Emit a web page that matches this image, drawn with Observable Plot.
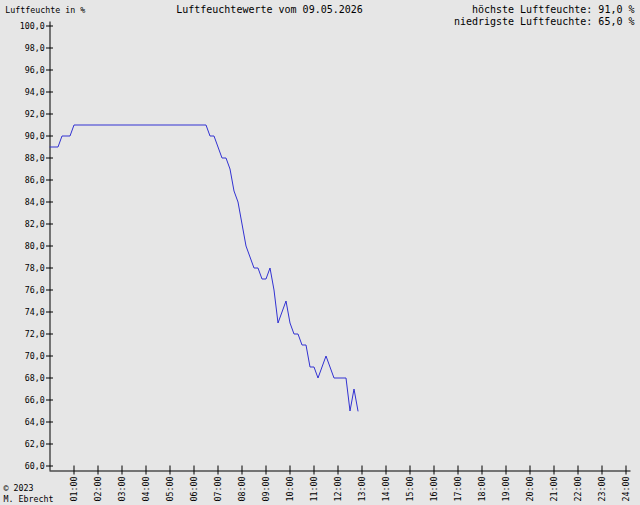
<!DOCTYPE html>
<html>
<head>
<meta charset="utf-8">
<script src="https://cdn.jsdelivr.net/npm/d3@7"></script>
<script src="https://cdn.jsdelivr.net/npm/@observablehq/plot@0.6"></script>
<style>
  html, body { margin: 0; padding: 0; background: #e6e6e6; }
  #chart svg { display: block; }
</style>
</head>
<body>
<div id="chart"></div>
<script>
// ---- data ----
const times = [
  "00:00","00:10","00:20","00:30","00:40","00:50",
  "01:00","01:10","01:20","01:30","01:40","01:50",
  "02:00","02:10","02:20","02:30","02:40","02:50",
  "03:00","03:10","03:20","03:30","03:40","03:50",
  "04:00","04:10","04:20","04:30","04:40","04:50",
  "05:00","05:10","05:20","05:30","05:40","05:50",
  "06:00","06:10","06:20","06:30","06:40","06:50",
  "07:00","07:10","07:20","07:30","07:40","07:50",
  "08:00","08:10","08:20","08:30","08:40","08:50",
  "09:00","09:10","09:20","09:30","09:40","09:50",
  "10:00","10:10","10:20","10:30","10:40","10:50",
  "11:00","11:10","11:20","11:30","11:40","11:50",
  "12:00","12:10","12:20","12:30","12:40","12:50"
];
const humidity = [
  89, 89, 89, 90, 90, 90,
  91, 91, 91, 91, 91, 91,
  91, 91, 91, 91, 91, 91,
  91, 91, 91, 91, 91, 91,
  91, 91, 91, 91, 91, 91,
  91, 91, 91, 91, 91, 91,
  91, 91, 91, 91, 90, 90,
  89, 88, 88, 87, 85, 84,
  82, 80, 79, 78, 78, 77,
  77, 78, 76, 73, 74, 75,
  73, 72, 72, 71, 71, 69,
  69, 68, 69, 70, 69, 68,
  68, 68, 68, 65, 67, 65
];
const xTicks = [1, 2, 3, 4, 5, 6, 7, 8, 9, 10, 11, 12, 13, 14, 15, 16, 17, 18, 19, 20, 21, 22, 23, 24];
const yTicks = [60, 62, 64, 66, 68, 70, 72, 74, 76, 78, 80, 82, 84, 86, 88, 90, 92, 94, 96, 98, 100];
const xDomain = [0, 24];
const yDomain = [60, 100];

const titleText = "Luftfeuchtewerte vom 09.05.2026";
const unitText = "Luftfeuchte in %";
const statsText = ["höchste Luftfeuchte: 91,0 %", "niedrigste Luftfeuchte: 65,0 %"];
const creditText = ["© 2023", "M. Ebrecht"];

// ---- build table ----
const data = times.map((t, i) => {
  const [hh, mm] = t.split(":").map(Number);
  return {h: hh + mm / 60, v: humidity[i]};
});

const fmtY = d => d.toFixed(1).replace(".", ",");
const fmtX = d => String(d).padStart(2, "0") + ":00";

const mono = "'DejaVu Sans Mono', 'Liberation Mono', monospace";

const chart = Plot.plot({
  width: 640,
  height: 505,
  marginLeft: 49.5,
  marginRight: 14.5,
  marginTop: 25.5,
  marginBottom: 39.5,
  style: {background: "#e6e6e6", fontFamily: mono, fontSize: "8.3px", color: "black", overflow: "visible"},
  x: {domain: xDomain, label: null},
  y: {domain: yDomain, label: null},
  marks: [
    // axis lines
    Plot.ruleX([xDomain[0]], {stroke: "black", insetTop: -4, insetBottom: -5}),
    Plot.ruleY([yDomain[0]], {stroke: "black", dy: 5, insetRight: -5}),
    // y ticks crossing the axis
    Plot.axisY({ticks: yTicks, tickSize: 7, dx: 3.5, tickFormat: () => "", strokeOpacity: 1}),
    // y labels
    Plot.axisY({ticks: yTicks, tickSize: 0, tickPadding: 5.3, tickFormat: fmtY}),
    // x ticks + rotated labels
    Plot.axisX({ticks: xTicks, tickSize: 9, tickPadding: 1.5, tickRotate: -90, tickFormat: fmtX, strokeOpacity: 1}),
    // data line
    Plot.line(data, {x: "h", y: "v", stroke: "#3232d2", strokeWidth: 1}),
    // texts
    Plot.text([unitText], {text: d => d, frameAnchor: "top-left", dx: -44.8, dy: -13.5, textAnchor: "start", lineAnchor: "bottom", fontSize: 8.3}),
    Plot.text([titleText], {text: d => d, frameAnchor: "top", dx: -68.5, dy: -13.5, textAnchor: "middle", lineAnchor: "bottom", fontSize: 10}),
    Plot.text([statsText.join("\n")], {text: d => d, frameAnchor: "top-right", dx: 8.5, dy: -1.5, textAnchor: "end", lineAnchor: "bottom", fontSize: 10, lineHeight: 1.2}),
    Plot.text([creditText.join("\n")], {text: d => d, frameAnchor: "bottom-left", dx: -46.5, dy: 35.8, textAnchor: "start", lineAnchor: "bottom", fontSize: 8.3, lineHeight: 1.3})
  ]
});
document.getElementById("chart").appendChild(chart);
</script>
</body>
</html>
